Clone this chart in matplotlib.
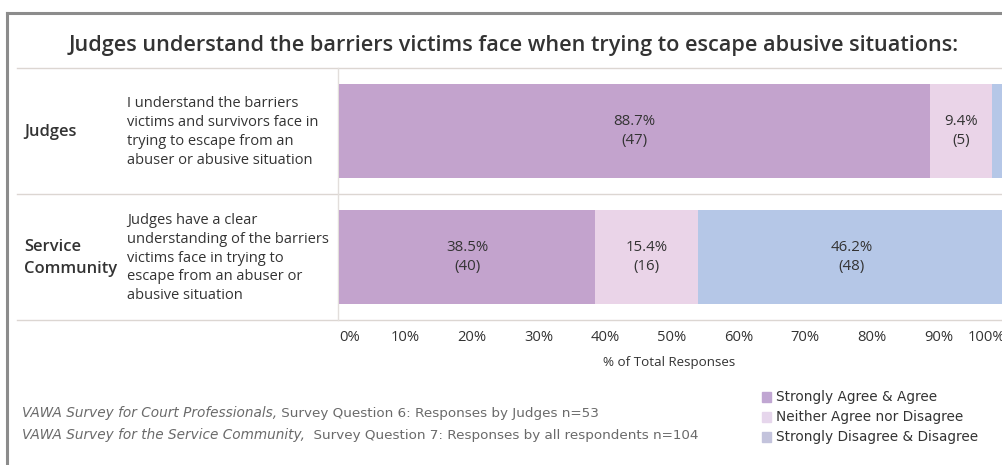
import matplotlib
matplotlib.use("Agg")
import matplotlib.pyplot as plt
from matplotlib.patches import Rectangle

# survey results
groups = ["Judges", "Service\nCommunity"]
questions = [
    "I understand the barriers\nvictims and survivors face in\ntrying to escape from an\nabuser or abusive situation",
    "Judges have a clear\nunderstanding of the barriers\nvictims face in trying to\nescape from an abuser or\nabusive situation",
]
categories = ["Strongly Agree & Agree", "Neither Agree nor Disagree", "Strongly Disagree & Disagree"]
pct = [
    [88.7, 9.4, 1.9],
    [38.5, 15.4, 46.2],
]
counts = [
    [47, 5, 1],
    [40, 16, 48],
]
xticks = [0, 10, 20, 30, 40, 50, 60, 70, 80, 90, 100]
colors = ["#c3a3cd", "#ead4e8", "#b5c7e7"]
legend_colors = ["#c0a6d2", "#e6d6ec", "#c3c3dc"]

txt = "#333333"
plt.rcParams["font.family"] = ["Open Sans", "DejaVu Sans"]
small_font = ["DejaVu Sans"]

W, H = 1003, 465
fig = plt.figure(figsize=(W / 100, H / 100), dpi=100)

# background layer in pixel coordinates for frame, separators and text
bg = fig.add_axes([0, 0, 1, 1])
bg.set_xlim(0, W)
bg.set_ylim(H, 0)
bg.axis("off")

bg.plot([7, 7], [13, 465], color="#8c8c8c", lw=2.2)
bg.plot([7, W], [13, 13], color="#8c8c8c", lw=2.2)
for y in (68, 194, 320):
    bg.plot([17, W], [y, y], color="#dcd6d2", lw=1)
bg.plot([338, 338], [68, 320], color="#e2dedb", lw=1)

bg.text(514, 45, "Judges understand the barriers victims face when trying to escape abusive situations:",
        ha="center", va="center", fontsize=15.6, fontweight="semibold", color=txt)

row_y = [132, 258]
for g, q, y in zip(groups, questions, row_y):
    bg.text(24, y, g, ha="left", va="center", fontsize=11.9, fontweight="semibold",
            color=txt, linespacing=1.45)
    bg.text(127, y, q, ha="left", va="center", fontsize=10.5, color=txt, linespacing=1.36)

# stacked bars
ax = fig.add_axes([339 / W, 1 - 320 / H, 666 / W, 252 / H])
ax.set_xlim(0, 100)
ax.set_ylim(1.5, -0.5)
ax.patch.set_alpha(0)
for i, (p_row, c_row) in enumerate(zip(pct, counts)):
    left = 0
    for j, (p, c) in enumerate(zip(p_row, c_row)):
        ax.barh(i, p, left=left, height=0.75, color=colors[j], edgecolor="none")
        if p > 5:
            ax.text(left + p / 2, i, f"{p}%\n({c})", ha="center", va="center",
                    fontsize=10.8, color=txt, linespacing=1.45)
        left += p

ax.set_yticks([])
ax.set_xticks(xticks)
labels = ax.set_xticklabels([f"{t}%" for t in xticks], fontsize=10.6, color=txt)
labels[0].set_ha("left")
labels[-1].set_ha("right")
ax.tick_params(axis="x", length=0, pad=7.5)
for s in ax.spines.values():
    s.set_visible(False)
bg.text(669, 362, "% of Total Responses", ha="center", va="center", fontsize=9.6, color=txt)

# legend
for k, (lab, c) in enumerate(zip(categories, legend_colors)):
    y = 397 + 20 * k
    bg.add_patch(Rectangle((762, y - 5), 9, 10, color=c))
    bg.text(776, y, lab, ha="left", va="center", fontsize=9.8, color=txt, family=small_font)

# sources
notes = [
    ("VAWA Survey for Court Professionals,", " Survey Question 6: Responses by Judges n=53"),
    ("VAWA Survey for the Service Community,", "  Survey Question 7: Responses by all respondents n=104"),
]
for k, (it, rest) in enumerate(notes):
    y = 413 + 22 * k
    t = bg.text(22, y, it, ha="left", va="center", fontsize=9.8, style="italic",
                color="#6a6a6a", family=small_font)
    fig.canvas.draw()
    bb = t.get_window_extent()
    x2 = bg.transData.inverted().transform((bb.x1, 0))[0]
    bg.text(x2, y, rest, ha="left", va="center", fontsize=9.7, color="#6a6a6a", family=small_font)

fig.savefig("out.png", dpi=100)
